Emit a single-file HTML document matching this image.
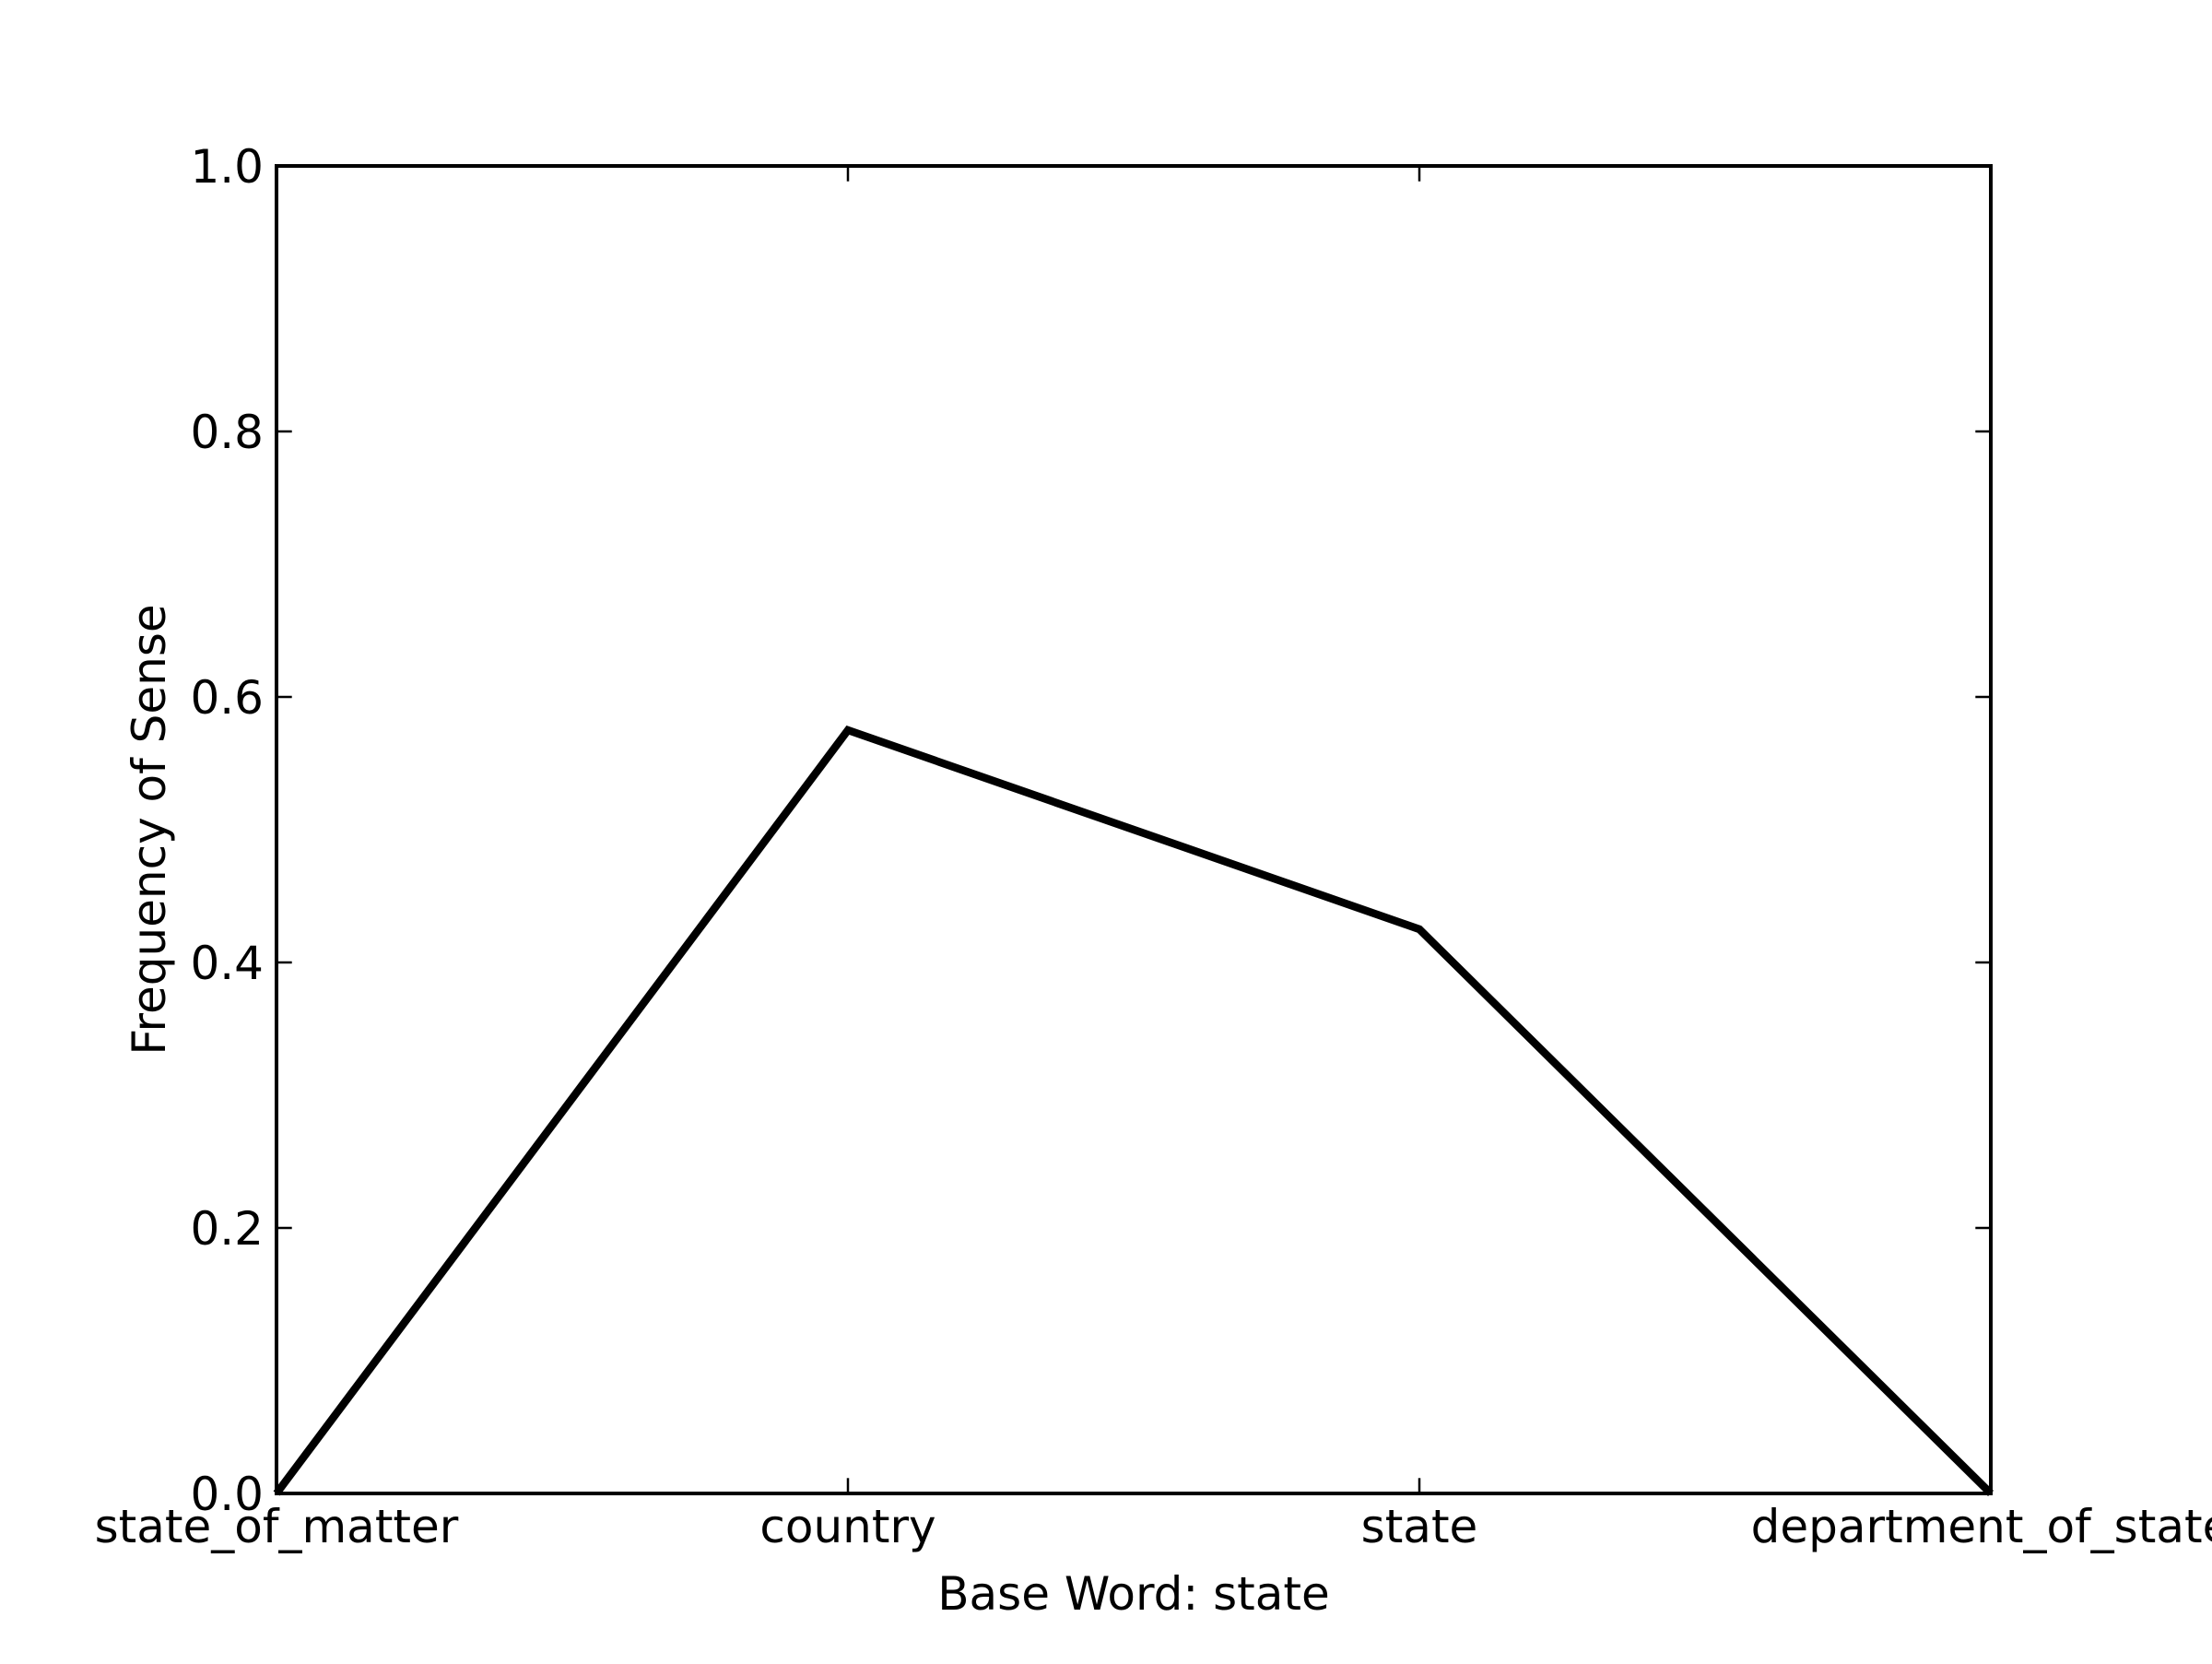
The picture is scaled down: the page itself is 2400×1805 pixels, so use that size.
<!DOCTYPE html>
<html><head><meta charset="utf-8">
<style>
html,body{margin:0;padding:0;background:#fff;}
svg text{font-family:"DejaVu Sans","Liberation Sans",sans-serif;fill:#000;}
</style></head>
<body>
<svg id="chart" width="2400" height="1800" viewBox="0 0 2400 1800" xmlns="http://www.w3.org/2000/svg">
<rect width="2400" height="1800" fill="#fff"/>
<g id="plot"></g>
</svg>
<script>
const categories = ["state_of_matter","country","state","department_of_state"];
const values = [0.0, 0.575, 0.425, 0.0];
const yTicks = [0.0, 0.2, 0.4, 0.6, 0.8, 1.0];
const yTickLabels = ["0.0","0.2","0.4","0.6","0.8","1.0"];
const xLabel = "Base Word: state";
const yLabel = "Frequency of Sense";

const NS="http://www.w3.org/2000/svg";
const g=document.getElementById('plot');
const L=300,R=2160,T=180,B=1620;
const xs=i=>L+(R-L)*i/(categories.length-1);
const ys=v=>B-(B-T)*v;
function mk(tag,attrs){const e=document.createElementNS(NS,tag);for(const k in attrs)e.setAttribute(k,attrs[k]);g.appendChild(e);return e;}

const pts=values.map((v,i)=>xs(i)+","+ys(v)).join(" ");
const line=mk('polyline',{points:pts,fill:'none',stroke:'#000','stroke-width':8.5,'stroke-linejoin':'miter'});



const TL=16.7;
yTicks.forEach((v,i)=>{
  const y=ys(v);
  mk('line',{x1:L,x2:L+TL,y1:y,y2:y,stroke:'#000','stroke-width':2.5});
  mk('line',{x1:R,x2:R-TL,y1:y,y2:y,stroke:'#000','stroke-width':2.5});
  const t=mk('text',{x:L-14,y:y+18,'text-anchor':'end','font-size':50});
  t.textContent=yTickLabels[i];
  
  
});
categories.forEach((c,i)=>{
  const x=xs(i);
  mk('line',{x1:x,x2:x,y1:B,y2:B-TL,stroke:'#000','stroke-width':2.5});
  mk('line',{x1:x,x2:x,y1:T,y2:T+TL,stroke:'#000','stroke-width':2.5});
  const t=mk('text',{x:x,y:B+53,'text-anchor':'middle','font-size':50});
  t.textContent=c;
  
  
});

const fr=mk('rect',{x:L,y:T,width:R-L,height:B-T,fill:'none',stroke:'#000','stroke-width':4});



const xl=mk('text',{x:(L+R)/2,y:1746,'text-anchor':'middle','font-size':50});
xl.textContent=xLabel;



const yl=mk('text',{x:0,y:0,'text-anchor':'middle','font-size':50,transform:'translate(179,900) rotate(-90)'});
yl.textContent=yLabel;


</script>
</body></html>
